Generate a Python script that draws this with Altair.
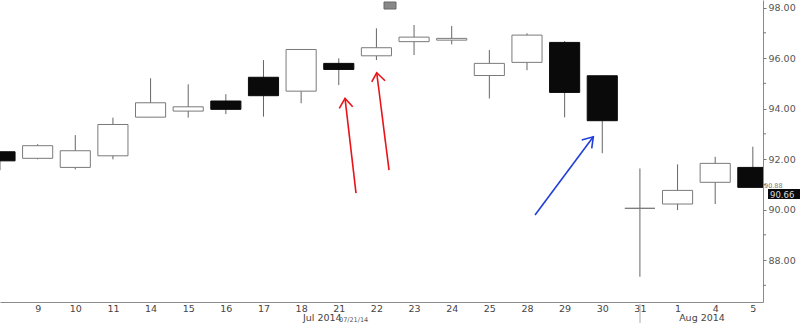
import altair as alt
import pandas as pd

days = ["8", "9", "10", "11", "14", "15", "16", "17", "18", "21", "22",
        "23", "24", "25", "28", "29", "30", "31", "1", "4", "5"]
opens = [92.29, 92.03, 91.67, 92.13, 93.66, 93.90, 94.30, 95.24, 94.69, 95.79, 96.09,
         96.65, 96.71, 95.31, 95.83, 96.62, 95.30, 90.05, 90.22, 91.08, 91.67]
closes = [91.93, 92.53, 92.33, 93.37, 94.23, 94.07, 93.97, 94.51, 96.34, 95.55, 96.41,
          96.83, 96.78, 95.79, 96.91, 94.64, 93.52, 90.05, 90.76, 91.83, 90.88]
highs = [92.29, 92.59, 92.95, 93.64, 95.20, 94.96, 94.57, 95.92, 96.34, 95.99, 97.18,
         97.31, 97.27, 96.32, 96.98, 96.67, 95.30, 91.63, 91.79, 92.09, 92.49]
lows = [91.56, 91.99, 91.59, 91.99, 93.66, 93.64, 93.78, 93.68, 94.21, 94.93, 95.92,
        96.12, 96.54, 94.40, 95.52, 93.65, 92.23, 87.34, 89.98, 90.22, 90.88]

major_ticks = [88, 90, 92, 94, 96, 98]
minor_ticks = [87, 89, 91, 93, 95, 97]

# annotation arrows (data units: candle index, price)
arrow_seg = ["a1", "a1", "a1h", "a1h", "a1h",
             "a2", "a2", "a2h", "a2h", "a2h",
             "b1", "b1", "b1h", "b1h", "b1h"]
arrow_col = ["#e8141a"] * 10 + ["#1f3fd8"] * 5
arrow_i = [9.458, 9.166, 9.014, 9.166, 9.370,
           10.335, 10.008, 9.875, 10.008, 10.229,
           14.214, 15.762, 15.454, 15.762, 15.720]
arrow_v = [90.653, 94.404, 94.008, 94.404, 94.071,
           91.564, 95.418, 95.061, 95.418, 95.101,
           89.782, 92.883, 92.752, 92.883, 92.424]

df = pd.DataFrame({"i": list(range(len(days))), "day": days, "open": opens,
                   "close": closes, "high": highs, "low": lows})
adf = pd.DataFrame({"seg": arrow_seg, "col": arrow_col, "i": arrow_i, "v": arrow_v,
                    "o": list(range(len(arrow_i)))})
mdf = pd.DataFrame({"v": minor_ticks})

label_arr = "[" + ",".join("'%s'" % d for d in days) + "]"

xscale = alt.Scale(domain=[0, 20.27], nice=False, zero=False)
yscale = alt.Scale(domain=[86.34, 98.30], nice=False, zero=False)

xaxis = alt.Axis(values=list(range(1, 21)), labelExpr=label_arr + "[datum.value]",
                 ticks=False, domainColor="#8a8a8a", labelColor="#444",
                 labelFont="DejaVu Sans", labelFontSize=9.5, labelPadding=1,
                 title=None, grid=False, labelFlush=False, labelOverlap=False)
yaxis = alt.Axis(orient="right", values=major_ticks, format=".2f",
                 tickSize=3, tickColor="#777", domainColor="#8a8a8a", labelColor="#555",
                 labelFont="DejaVu Sans", labelFontSize=9.5, labelPadding=2,
                 labelOverlap=False, labelFlush=False, labelBound=False,
                 title=None, grid=False)

base = alt.Chart(df)

wick = base.mark_rule(color="#666", strokeWidth=1, clip=True).encode(
    x=alt.X("i:Q", scale=xscale, axis=xaxis),
    y=alt.Y("low:Q", scale=yscale, axis=yaxis),
    y2="high:Q",
)

body = base.transform_calculate(
    x1="datum.i - 0.4", x2="datum.i + 0.4",
).mark_rect(strokeWidth=1, clip=True).encode(
    x=alt.X("x1:Q", scale=xscale, axis=xaxis),
    x2="x2:Q",
    y=alt.Y("open:Q", scale=yscale, axis=yaxis),
    y2="close:Q",
    fill=alt.condition("datum.close >= datum.open", alt.value("white"), alt.value("#0a0a0a")),
    stroke=alt.condition("datum.close >= datum.open", alt.value("#7a7a7a"), alt.value("#0a0a0a")),
)

arrows = alt.Chart(adf).mark_line(strokeWidth=1.6).encode(
    x=alt.X("i:Q", scale=xscale, axis=xaxis),
    y=alt.Y("v:Q", scale=yscale, axis=yaxis),
    detail="seg:N",
    order="o:Q",
    color=alt.Color("col:N", scale=None),
)

minor = alt.Chart(mdf).mark_rule(color="#777", strokeWidth=1).encode(
    x=alt.value(763), x2=alt.value(766),
    y=alt.Y("v:Q", scale=yscale, axis=yaxis),
)

extra = pd.DataFrame({"k": [0]})
ex = alt.Chart(extra)

jul = ex.mark_text(align="left", baseline="middle", font="DejaVu Sans", fontSize=9.5,
                   color="#444").encode(x=alt.value(303), y=alt.value(318), text=alt.value("Jul 2014"))
jul2 = ex.mark_text(align="left", baseline="middle", font="DejaVu Sans", fontSize=6.5,
                    color="#555").encode(x=alt.value(339), y=alt.value(320), text=alt.value("07/21/14"))
aug = ex.mark_text(align="center", baseline="middle", font="DejaVu Sans", fontSize=9.5,
                   color="#444").encode(x=alt.value(702), y=alt.value(318), text=alt.value("Aug 2014"))
cursor = ex.mark_rule(color="#aaa", strokeWidth=1).encode(
    x=alt.value(640), y=alt.value(304), y2=alt.value(323))
pbox = ex.mark_rect(color="#0a0a0a").encode(
    x=alt.value(768), x2=alt.value(800), y=alt.value(189), y2=alt.value(199))
p1 = ex.mark_text(align="left", baseline="middle", font="DejaVu Sans", fontSize=6.5,
                  color="#777").encode(x=alt.value(764), y=alt.value(186), text=alt.value("90.88"))
p2 = ex.mark_text(align="left", baseline="middle", font="DejaVu Sans", fontSize=8.5,
                  color="#ddd").encode(x=alt.value(770), y=alt.value(194.5), text=alt.value("90.66"))
icon = ex.mark_rect(color="#888", stroke="#666").encode(
    x=alt.value(384), x2=alt.value(396), y=alt.value(2), y2=alt.value(9))

chart = alt.layer(wick, body, arrows, minor, jul, jul2, aug, cursor, pbox, p1, p2, icon).properties(
    width=763, height=302,
    autosize=alt.AutoSizeParams(type="none"),
    padding={"left": 0, "top": 0, "right": 37, "bottom": 21},
    background="white",
).configure_view(stroke=None)

chart.save("out.html", embed_options={"renderer": "svg", "actions": False})
